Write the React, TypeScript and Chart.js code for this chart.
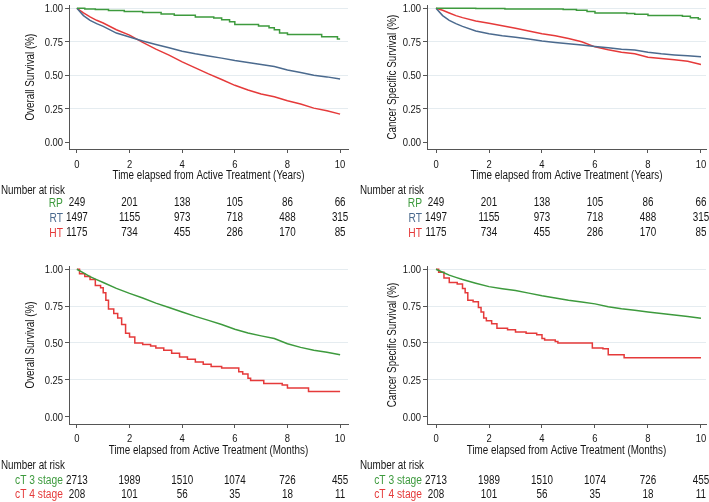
import React, { useEffect, useRef } from 'react';
import { Chart, registerables } from 'chart.js';
Chart.register(...registerables);

const FONT = "'Liberation Sans', Arial, sans-serif";
const SQUEEZE = 0.82; // narrow-font look of the original
const GREEN = '#3d9a3d';
const BLUE = '#4b6a8e';
const RED = '#e53a3a';
const INK = '#151515';

const xTicks = [0, 2, 4, 6, 8, 10];
const yTicks = [0, 0.25, 0.5, 0.75, 1];
const riskTimes = [0, 2, 4, 6, 8, 10];

// Risk tables
const rpRisk = [249, 201, 138, 105, 86, 66];
const rtRisk = [1497, 1155, 973, 718, 488, 315];
const htRisk = [1175, 734, 455, 286, 170, 85];
const ct3Risk = [2713, 1989, 1510, 1074, 726, 455];
const ct4Risk = [208, 101, 56, 35, 18, 11];

// Common time grid for the large groups
const gridT = [0, 0.25, 0.5, 0.75, 1, 1.5, 2, 2.5, 3, 3.5, 4, 4.5, 5, 5.5, 6, 6.5, 7, 7.5, 8, 8.5, 9, 9.5, 10];

// Panel A: Overall survival (years)
const osRpT = [0, 0.3, 0.7, 1.2, 1.8, 2.5, 3.2, 3.7, 4.5, 5.2, 5.5, 5.8, 6.0, 6.9, 7.3, 7.5, 7.7, 8.0, 9.3, 9.9, 10];
const osRpS = [1, 0.995, 0.99, 0.983, 0.975, 0.968, 0.958, 0.948, 0.935, 0.928, 0.915, 0.9, 0.878, 0.868, 0.855, 0.84, 0.815, 0.805, 0.788, 0.77, 0.77];
const osRtS = [1, 0.945, 0.91, 0.885, 0.865, 0.815, 0.785, 0.755, 0.73, 0.705, 0.68, 0.66, 0.643, 0.628, 0.61, 0.595, 0.58, 0.565, 0.54, 0.52, 0.5, 0.488, 0.472];
const osHtS = [1, 0.965, 0.935, 0.91, 0.89, 0.84, 0.8, 0.745, 0.695, 0.65, 0.6, 0.555, 0.51, 0.468, 0.425, 0.39, 0.36, 0.34, 0.31, 0.285, 0.255, 0.235, 0.21];

// Panel B: Cancer specific survival (years)
const cssRpT = [0, 1.5, 2.6, 4.8, 5.3, 5.7, 6.0, 7.2, 7.5, 8.0, 9.3, 9.6, 9.9, 10];
const cssRpS = [1, 0.998, 0.995, 0.99, 0.985, 0.975, 0.965, 0.96, 0.955, 0.945, 0.94, 0.93, 0.92, 0.92];
const cssRtS = [1, 0.945, 0.91, 0.885, 0.865, 0.83, 0.81, 0.795, 0.783, 0.77, 0.755, 0.745, 0.735, 0.725, 0.715, 0.705, 0.695, 0.688, 0.672, 0.66, 0.652, 0.645, 0.638];
const cssHtS = [1, 0.985, 0.965, 0.945, 0.93, 0.905, 0.888, 0.87, 0.85, 0.83, 0.81, 0.795, 0.775, 0.75, 0.712, 0.69, 0.672, 0.66, 0.635, 0.625, 0.615, 0.605, 0.58];

// Panel C: Overall survival (months)
const osCt3S = [1, 0.975, 0.95, 0.93, 0.91, 0.87, 0.836, 0.805, 0.77, 0.74, 0.71, 0.68, 0.653, 0.625, 0.593, 0.568, 0.548, 0.53, 0.495, 0.47, 0.45, 0.437, 0.42];
const osCt4T = [0, 0.1, 0.3, 0.5, 0.7, 0.9, 1.0, 1.1, 1.2, 1.4, 1.55, 1.7, 1.85, 2.0, 2.2, 2.5, 2.8, 3.0, 3.3, 3.6, 3.9, 4.2, 4.5, 4.8, 5.1, 5.5, 6.0, 6.15, 6.3, 6.5, 6.6, 7.1, 7.8, 8.0, 8.8, 10];
const osCt4S = [1, 0.97, 0.95, 0.93, 0.89, 0.875, 0.84, 0.79, 0.73, 0.7, 0.67, 0.625, 0.565, 0.54, 0.5, 0.49, 0.48, 0.465, 0.45, 0.43, 0.405, 0.39, 0.37, 0.355, 0.34, 0.33, 0.33, 0.305, 0.29, 0.26, 0.245, 0.225, 0.215, 0.195, 0.17, 0.17];

// Panel D: Cancer specific survival (months)
const cssCt3S = [1, 0.98, 0.96, 0.945, 0.93, 0.905, 0.882, 0.868, 0.855, 0.838, 0.82, 0.805, 0.79, 0.778, 0.765, 0.745, 0.732, 0.722, 0.71, 0.7, 0.69, 0.68, 0.667];
const cssCt4T = [0, 0.1, 0.3, 0.5, 0.8, 1.0, 1.1, 1.2, 1.4, 1.6, 1.7, 1.8, 1.9, 2.1, 2.3, 2.7, 3.0, 3.4, 3.8, 4.0, 4.1, 4.5, 4.6, 5.9, 6.3, 6.5, 7.1, 10];
const cssCt4S = [1, 0.98, 0.94, 0.91, 0.9, 0.87, 0.84, 0.79, 0.78, 0.74, 0.71, 0.67, 0.65, 0.63, 0.6, 0.59, 0.575, 0.565, 0.555, 0.53, 0.52, 0.51, 0.5, 0.465, 0.46, 0.42, 0.4, 0.4];

type Curve = { t: number[]; s: number[]; color: string; stepped: boolean };
type Row = { label: string; color: string; values: number[] };
type Spec = {
  left: number; top: number; width: number; height: number;
  padding: { left: number; top: number; right: number; bottom: number };
  yWidth: number; xHeight: number; xMin: number; xMax: number;
  yTitle: string; xTitle: string; curves: Curve[]; rows: Row[];
  yTitleX: number; xTickY: number; xTitleY: number;
  headerY: number; firstRowY: number; rowGap: number;
};

function txt(ctx: CanvasRenderingContext2D, s: string, x: number, yCenter: number, align: CanvasTextAlign, size: number, color: string, rotate = false) {
  ctx.save();
  ctx.translate(x, yCenter);
  if (rotate) ctx.rotate(-Math.PI / 2);
  ctx.scale(SQUEEZE, 1);
  ctx.font = `${size}px ${FONT}`;
  ctx.textAlign = align;
  ctx.textBaseline = 'alphabetic';
  ctx.fillStyle = color;
  ctx.fillText(s, 0, size * 0.36);
  ctx.restore();
}

const textPlugin = {
  id: 'stataText',
  afterDraw(chart: any, _args: any, o: any) {
    const { ctx, chartArea } = chart;
    const x = chart.scales.x;
    const y = chart.scales.y;
    const x0 = x.getPixelForValue(0);
    // y tick labels
    yTicks.forEach((v) => txt(ctx, v.toFixed(2), chartArea.left - 6, y.getPixelForValue(v), 'right', 11.5, INK));
    // x tick labels
    xTicks.forEach((v) => txt(ctx, String(v), x.getPixelForValue(v), o.xTickY, 'center', 11.5, INK));
    // axis titles
    txt(ctx, o.xTitle, (chartArea.left + chartArea.right) / 2, o.xTitleY, 'center', 12, INK);
    txt(ctx, o.yTitle, o.yTitleX, (chartArea.top + chartArea.bottom) / 2, 'center', 12, INK, true);
    // risk table
    txt(ctx, 'Number at risk', x0 - 76, o.headerY, 'left', 12, INK);
    (o.rows as Row[]).forEach((row, i) => {
      const yy = o.firstRowY + i * o.rowGap;
      row.values.forEach((v, j) => txt(ctx, String(v), x.getPixelForValue(riskTimes[j]), yy, 'center', 12, INK));
      txt(ctx, row.label, x0 - 14, yy, 'right', 12.5, row.color);
    });
  },
};

const topRows: Row[] = [
  { label: 'RP', color: GREEN, values: rpRisk },
  { label: 'RT', color: BLUE, values: rtRisk },
  { label: 'HT', color: RED, values: htRisk },
];
const bottomRows: Row[] = [
  { label: 'cT 3 stage', color: GREEN, values: ct3Risk },
  { label: 'cT 4 stage', color: RED, values: ct4Risk },
];

const specs: Spec[] = [
  {
    left: 0, top: 0, width: 354, height: 250,
    padding: { left: 0, top: 5.3, right: 6, bottom: 71 },
    yWidth: 69, xHeight: 30, xMin: -0.3, xMax: 10.3,
    yTitle: 'Overall Survival (%)', xTitle: 'Time elapsed from Active Treatment (Years)',
    curves: [
      { t: osRpT, s: osRpS, color: GREEN, stepped: true },
      { t: gridT, s: osRtS, color: BLUE, stepped: false },
      { t: gridT, s: osHtS, color: RED, stepped: false },
    ],
    rows: topRows, yTitleX: 30, xTickY: 164.3, xTitleY: 174.3, headerY: 190, firstRowY: 202, rowGap: 15,
  },
  {
    left: 359, top: 0, width: 350, height: 250,
    padding: { left: 0, top: 5.3, right: 3, bottom: 71 },
    yWidth: 68, xHeight: 30, xMin: -0.34, xMax: 10.19,
    yTitle: 'Cancer Specific Survival (%)', xTitle: 'Time elapsed from Active Treatment (Years)',
    curves: [
      { t: cssRpT, s: cssRpS, color: GREEN, stepped: true },
      { t: gridT, s: cssRtS, color: BLUE, stepped: false },
      { t: gridT, s: cssHtS, color: RED, stepped: false },
    ],
    rows: topRows, yTitleX: 33, xTickY: 164.3, xTitleY: 174.3, headerY: 190, firstRowY: 202, rowGap: 15,
  },
  {
    left: 0, top: 250, width: 354, height: 252,
    padding: { left: 0, top: 16, right: 6, bottom: 48 },
    yWidth: 69, xHeight: 30, xMin: -0.3, xMax: 10.3,
    yTitle: 'Overall Survival (%)', xTitle: 'Time elapsed from Active Treatment (Months)',
    curves: [
      { t: gridT, s: osCt3S, color: GREEN, stepped: false },
      { t: osCt4T, s: osCt4S, color: RED, stepped: true },
    ],
    rows: bottomRows, yTitleX: 30, xTickY: 187.7, xTitleY: 200, headerY: 215, firstRowY: 229.3, rowGap: 14,
  },
  {
    left: 359, top: 250, width: 350, height: 252,
    padding: { left: 0, top: 16, right: 3, bottom: 48 },
    yWidth: 68, xHeight: 30, xMin: -0.34, xMax: 10.19,
    yTitle: 'Cancer Specific Survival (%)', xTitle: 'Time elapsed from Active Treatment (Months)',
    curves: [
      { t: gridT, s: cssCt3S, color: GREEN, stepped: false },
      { t: cssCt4T, s: cssCt4S, color: RED, stepped: true },
    ],
    rows: bottomRows, yTitleX: 33, xTickY: 187.7, xTitleY: 200, headerY: 215, firstRowY: 229.3, rowGap: 14,
  },
];

function Panel({ spec }: { spec: Spec }) {
  const ref = useRef<HTMLCanvasElement>(null);
  useEffect(() => {
    const chart = new Chart(ref.current as HTMLCanvasElement, {
      type: 'line',
      data: {
        datasets: spec.curves.map((c) => ({
          data: c.t.map((t, i) => ({ x: t, y: c.s[i] })),
          borderColor: c.color,
          borderWidth: 1.5,
          pointRadius: 0,
          stepped: c.stepped ? 'before' : false,
          tension: 0,
          fill: false,
        })),
      },
      options: {
        responsive: false,
        animation: false,
        events: [],
        layout: { padding: spec.padding },
        plugins: {
          legend: { display: false },
          tooltip: { enabled: false },
          stataText: {
            rows: spec.rows, xTitle: spec.xTitle, yTitle: spec.yTitle, yTitleX: spec.yTitleX,
            xTickY: spec.xTickY, xTitleY: spec.xTitleY,
            headerY: spec.headerY, firstRowY: spec.firstRowY, rowGap: spec.rowGap,
          },
        } as any,
        scales: {
          x: {
            type: 'linear',
            min: spec.xMin,
            max: spec.xMax,
            afterBuildTicks: (s: any) => { s.ticks = xTicks.map((v) => ({ value: v })); },
            afterFit: (s: any) => { s.height = spec.xHeight; s.paddingLeft = 0; s.paddingRight = 0; },
            ticks: { display: false },
            grid: { drawOnChartArea: false, tickLength: 4, tickColor: '#555' },
            border: { color: '#555' },
          },
          y: {
            type: 'linear',
            min: -0.05,
            max: 1.022,
            afterBuildTicks: (s: any) => { s.ticks = yTicks.map((v) => ({ value: v })); },
            afterFit: (s: any) => { s.width = spec.yWidth; s.paddingTop = 0; s.paddingBottom = 0; },
            ticks: { display: false },
            grid: {
              color: (c: any) => (c.tick && c.tick.value === 0 ? 'rgba(0,0,0,0)' : '#e5ecf0'),
              tickLength: 4,
              tickColor: '#555',
            },
            border: { color: '#555' },
          },
        },
      },
      plugins: [textPlugin],
    } as any);
    return () => chart.destroy();
  }, []);
  return (
    <canvas
      ref={ref}
      width={spec.width}
      height={spec.height}
      style={{ position: 'absolute', left: spec.left, top: spec.top, width: spec.width, height: spec.height }}
    />
  );
}

export default function App() {
  return (
    <div style={{ position: 'absolute', left: 0, top: 0, width: 709, height: 502, overflow: 'hidden', background: '#fff' }}>
      {specs.map((s, i) => (
        <Panel key={i} spec={s} />
      ))}
    </div>
  );
}
